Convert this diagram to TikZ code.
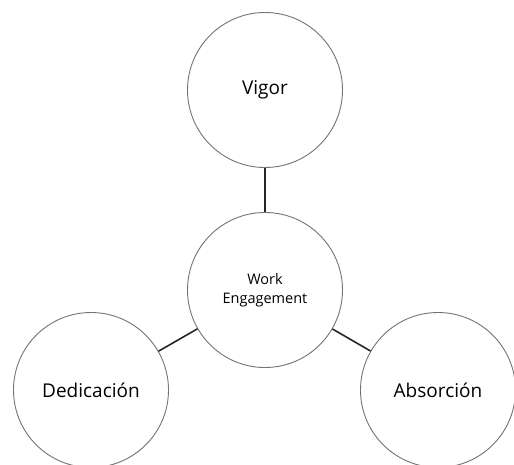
\documentclass[tikz,border=0pt]{standalone}
\usepackage{fontspec}
\setmainfont{Open Sans}
\begin{document}
\begin{tikzpicture}[x=1pt,y=-1pt,
  bubble/.style={circle,draw=black!55,line width=0.9pt,minimum size=155pt,inner sep=0pt,align=center,text=black},
  big/.style={font=\fontsize{19}{22}\selectfont},
  small/.style={font=\fontsize{14.5}{19}\selectfont},
  link/.style={draw=black!85,line width=1.6pt}]
\useasboundingbox (0,0) rectangle (514,464);
\node[bubble,big] (v) at (265,90) {Vigor};
\node[bubble,small] (w) at (265,290) {Work\\Engagement};
\node[bubble,big] (d) at (91,390) {Dedicación};
\node[bubble,big] (a) at (438,390) {Absorción};
\draw[link] (v) -- (w);
\draw[link] (w) -- (d);
\draw[link] (w) -- (a);
\end{tikzpicture}
\end{document}
